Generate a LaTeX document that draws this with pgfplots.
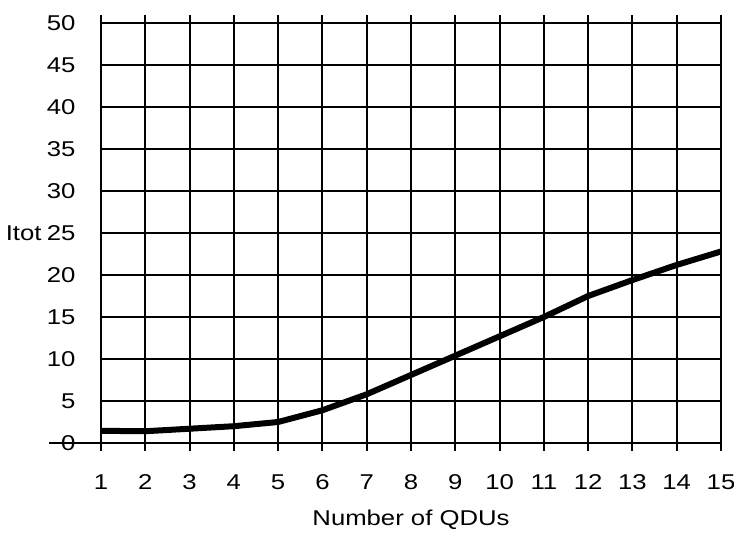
\documentclass[border=0pt]{standalone}
\usepackage{fontspec}
\setmainfont{Liberation Sans}[FakeStretch=1.2]
\usepackage{pgfplots}
\pgfplotsset{compat=1.18}

\begin{document}
\begin{tikzpicture}
\useasboundingbox (-101bp,-93bp) rectangle (633bp,443bp);
\begin{axis}[%
at={(0,0)}, anchor=south west,
width=620bp, height=420bp,
scale only axis,
xmin=1, xmax=15,
ymin=0, ymax=50,
xtick={1,...,15},
ytick={0,5,...,50},
grid=major,
major grid style={black, line width=1.9bp},
axis line style={black, line width=1.9bp},
tick align=outside,
xtick style={black, line width=1.9bp},
major tick length=8bp,
ytick style={draw=none},
/pgf/number format/assume math mode=true,
tick label style={font=\fontsize{21.5}{24}\selectfont},
xticklabel shift=20bp,
yticklabel shift=14bp,
xlabel={Number of QDUs},
ylabel={Itot},
every axis x label/.style={at={(axis description cs:0.5,0)}, anchor=center, yshift=-77bp, font=\fontsize{21.5}{24}\selectfont},
every axis y label/.style={at={(axis description cs:0,0.5)}, anchor=east, xshift=-56bp, font=\fontsize{21.5}{24}\selectfont},
clip=false,
]
\addplot [black, line width=6bp, line join=round, line cap=butt, forget plot]
  table[row sep=crcr]{%
1	1.45\\
2	1.4\\
3	1.7\\
4	2.0\\
5	2.5\\
6	3.9\\
7	5.8\\
8	8.1\\
9	10.4\\
10	12.7\\
11	15.0\\
12	17.5\\
13	19.4\\
14	21.2\\
15	22.8\\
};
\draw[black, line width=1.9bp] (axis cs:1,0) -- ++(-8bp,0);
\end{axis}
\end{tikzpicture}
\end{document}
